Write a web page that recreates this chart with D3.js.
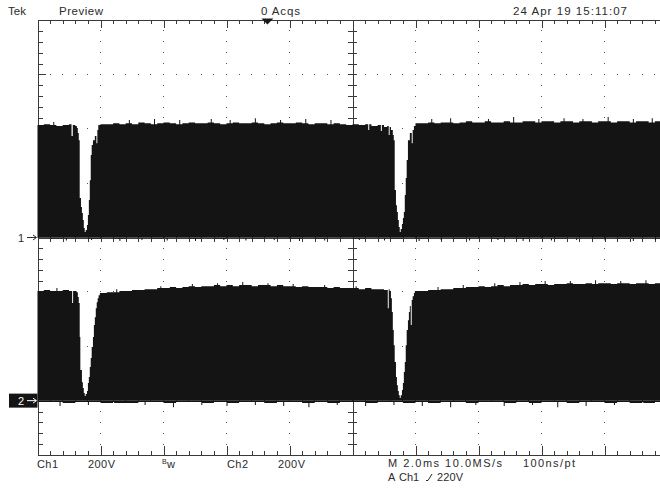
<!DOCTYPE html>
<html><head><meta charset="utf-8">
<script src="https://cdn.jsdelivr.net/npm/d3@7"></script>
<style>
html,body{margin:0;padding:0;background:#fff;}
svg{display:block;}
text{font-family:"Liberation Sans",Arial,Helvetica,sans-serif;fill:#2b2b2b;}
</style></head><body>
<svg id="scope" width="660" height="488"></svg>
<script>
// Acquisition settings: 2.0 ms/div over 10 divisions, 200 V/div over 8 divisions
const timeDomain = [0, 20];
const voltsPerDiv = 200;
const ch1Offset = 0;      // ground marker, divisions above centre
const ch2Offset = -3;

// Channel 1 upper envelope [ms, V]
const ch1Top = [
  [0.0,414],[0.2,417],[0.4,414],[0.6,410],[0.8,414],[1.0,417],[1.08,373],[1.12,414],[1.2,410],
  [1.25,403],[1.28,384],[1.31,358],[1.34,145],[1.38,112],[1.41,90],[1.44,64],[1.47,35],[1.50,20],
  [1.53,28],[1.57,46],[1.60,83],[1.63,138],[1.66,211],[1.69,303],[1.72,340],[1.76,358],[1.82,373],
  [1.87,347],[1.90,395],[1.93,414],
  [2.0,417],[2.2,417],[2.4,420],[2.6,417],[2.8,420],[3.0,417],[3.2,423],[3.4,420],[3.6,417],[3.8,420],
  [4.0,423],[4.2,420],[4.4,417],[4.6,420],[4.8,423],[5.0,420],[5.2,420],[5.4,423],[5.6,420],[5.8,417],
  [6.0,420],[6.2,423],[6.4,420],[6.6,420],[6.8,423],[7.0,420],[7.2,417],[7.4,420],[7.6,423],[7.8,420],
  [8.0,420],[8.2,423],[8.4,420],[8.6,417],[8.8,420],[9.0,420],[9.2,417],[9.4,420],[9.6,417],[9.8,414],
  [10.0,417],[10.2,414],[10.4,417],[10.6,410],[10.8,414],[11.0,406],[11.1,410],
  [11.15,377],[11.18,406],[11.22,395],[11.28,377],[11.31,358],[11.34,175],[11.38,119],[11.41,94],
  [11.44,64],[11.47,39],[11.50,20],[11.53,31],[11.57,50],[11.60,72],[11.63,94],[11.66,156],[11.69,219],
  [11.72,285],[11.76,358],[11.82,384],[11.88,347],[11.91,395],[11.95,410],
  [12.0,420],[12.2,420],[12.4,423],[12.6,420],[12.8,423],[13.0,423],[13.2,420],[13.4,423],[13.6,428],
  [13.8,423],[14.0,423],[14.2,428],[14.4,423],[14.6,423],[14.8,428],[15.0,423],[15.2,423],[15.4,428],
  [15.6,428],[15.8,423],[16.0,428],[16.2,428],[16.4,423],[16.6,428],[16.8,428],[17.0,423],[17.2,428],
  [17.4,428],[17.6,423],[17.8,428],[18.0,428],[18.2,423],[18.4,428],[18.6,428],[18.8,423],[19.0,428],
  [19.2,428],[19.4,423],[19.6,428],[19.8,428],[20.0,428]
];
// Single-sample peaks on the channel 1 upper envelope [ms, V]
const ch1TopSpikes = [
  [0.5,425],[2.9,432],[3.7,436],[4.5,432],[5.5,436],[6.1,432],[6.9,439],[7.7,432],[8.5,436],[9.3,432],
  [10.5,395],[10.9,392],[12.5,436],[13.1,439],[14.3,436],[15.1,443],[15.9,436],[16.7,439],[17.3,436],
  [18.1,443],[18.9,436],[19.5,439]
];
// Channel 1 lower envelope, one value every 0.4 ms
const ch1Low = [-2,-4,-2,-2,-4,-2,-4,-2,-2,-4,-2,-2,-4,-2,-4,-2,-2,-4,-2,-2,-4,-2,-4,-2,-2,-4,
  -2,-2,-4,-2,-4,-2,-2,-4,-2,-2,-4,-2,-4,-2,-2,-4,-2,-2,-4,-2,-4,-2,-2,-4,-2];
const ch1LowSpikes = [
  [0.9,-11],[1.7,-9],[2.6,-13],[3.3,-9],[4.1,-11],[5.0,-13],[5.9,-9],[6.6,-11],[7.5,-9],[8.3,-13],
  [9.1,-11],[10.2,-9],[11.0,-11],[12.1,-13],[12.8,-9],[13.7,-11],[14.6,-9],[15.4,-13],[16.3,-11],
  [17.1,-9],[18.0,-11],[18.9,-13],[19.6,-9]
];

// Channel 2 upper envelope [ms, V]
const ch2Top = [
  [0.0,403],[0.2,407],[0.4,403],[0.6,403],[0.8,407],[1.0,403],[1.10,359],[1.13,403],[1.2,403],
  [1.24,399],[1.28,381],[1.31,359],[1.34,234],[1.36,113],[1.41,68],[1.44,46],[1.47,28],[1.50,17],
  [1.53,24],[1.57,35],[1.60,65],[1.63,87],[1.66,124],[1.69,157],[1.72,197],[1.76,234],[1.79,278],
  [1.82,307],[1.85,340],[1.88,362],[1.91,377],[1.94,388],[1.98,396],
  [2.2,399],[2.4,399],[2.6,403],[2.8,403],[3.0,407],[3.2,407],[3.4,410],[3.6,410],[3.8,414],
  [4.0,414],[4.2,418],[4.4,414],[4.6,418],[4.8,421],[5.0,418],[5.2,421],[5.4,421],[5.6,425],[5.8,421],
  [6.0,425],[6.2,421],[6.4,425],[6.6,425],[6.8,421],[7.0,425],[7.2,425],[7.4,421],[7.6,425],[7.8,421],
  [8.0,421],[8.2,418],[8.4,421],[8.6,418],[8.8,418],[9.0,418],[9.2,414],[9.4,418],[9.6,414],[9.8,414],
  [10.0,414],[10.2,410],[10.4,414],[10.6,410],[10.8,410],[11.0,407],
  [11.12,340],[11.15,410],[11.18,403],[11.22,377],[11.25,326],[11.28,260],[11.31,204],[11.34,142],
  [11.38,87],[11.41,57],[11.44,35],[11.47,20],[11.50,10],[11.53,20],[11.57,39],[11.60,65],[11.63,105],
  [11.66,142],[11.69,204],[11.72,260],[11.76,296],[11.79,326],[11.82,348],[11.85,278],[11.88,370],
  [11.91,384],[11.95,396],[11.98,403],
  [12.2,403],[12.4,407],[12.6,407],[12.8,410],[13.0,410],[13.2,414],[13.4,414],[13.6,418],[13.8,418],
  [14.0,421],[14.2,418],[14.4,421],[14.6,425],[14.8,421],[15.0,425],[15.2,425],[15.4,429],[15.6,425],
  [15.8,429],[16.0,429],[16.2,425],[16.4,429],[16.6,429],[16.8,432],[17.0,429],[17.2,429],[17.4,432],
  [17.6,429],[17.8,432],[18.0,432],[18.2,429],[18.4,432],[18.6,432],[18.8,429],[19.0,432],[19.2,432],
  [19.4,429],[19.6,432],[19.8,432],[20.0,432]
];
const ch2TopSpikes = [
  [0.6,414],[2.5,410],[3.9,421],[4.9,429],[5.7,432],[6.5,436],[7.3,432],[8.1,429],[9.1,425],
  [10.1,421],[12.7,418],[13.5,425],[14.5,432],[15.3,436],[16.1,440],[16.9,440],[17.7,443],
  [18.5,440],[19.3,443]
];
const ch2Low = [-5,-5,-9,-5,-5,-9,-5,-9,-5,-5,-9,-5,-5,-9,-5,-9,-5,-5,-9,-5,-5,-9,-5,-9,-5,-5,
  -9,-5,-5,-9,-5,-9,-5,-5,-9,-5,-5,-9,-5,-9,-5,-5,-9,-5,-5,-9,-5,-9,-5,-5,-9];
const ch2LowSpikes = [
  [0.7,-20],[1.6,-16],[2.4,-20],[3.4,-16],[4.3,-24],[5.2,-16],[6.0,-20],[6.9,-16],[7.8,-20],
  [8.6,-24],[9.5,-16],[10.4,-20],[11.3,-16],[12.2,-20],[13.1,-24],[13.9,-16],[14.8,-20],
  [15.7,-16],[16.5,-24],[17.4,-20],[18.3,-16],[19.2,-20]
];

// Readout text
const headerLabels = [
  {text:"Tek", x:8, len:0},
  {text:"Preview", x:59, len:44},
  {text:"0 Acqs", x:261, len:39},
  {text:"24 Apr 19 15:11:07", x:513, len:114}
];
const footerLabels = [
  {text:"Ch1", x:37, y:468, len:21},
  {text:"200V", x:88, y:468, len:27},
  {text:"Ch2", x:227, y:468, len:21},
  {text:"200V", x:278, y:468, len:27},
  {text:"M 2.0ms 10.0MS/s", x:388, y:467, len:114},
  {text:"100ns/pt", x:523, y:467, len:52},
  {text:"A", x:388, y:481, len:0},
  {text:"Ch1", x:399, y:481, len:0},
  {text:"220V", x:437, y:481, len:26}
];
const triggerTime = 7.3;

// ---- screen geometry ----
const svg = d3.select("#scope");
const gLeft = 37.5, gTop = 20, divW = 63, divH = 54.375;
const nx = 10, ny = 8;
const gRight = gLeft + nx * divW, gBottom = gTop + ny * divH;
const cx = gLeft + 5 * divW, cy = gTop + 4 * divH;

const x = d3.scaleLinear().domain(timeDomain).range([gLeft, gRight]);
const yFor = off => d3.scaleLinear()
  .domain([(-4 - off) * voltsPerDiv, (4 - off) * voltsPerDiv]).range([gBottom, gTop]);
const y1 = yFor(ch1Offset), y2 = yFor(ch2Offset);

// ---- graticule ----
const grid = svg.append("g");
const dots = [];
for (let k = 1; k < nx; k++) if (k !== 5)
  for (let j = 1; j < ny * 5; j++) dots.push([gLeft + k * divW, gTop + j * divH / 5]);
for (let k = 1; k < ny; k++) if (k !== 4)
  for (let j = 1; j < nx * 5; j++) dots.push([gLeft + j * divW / 5, gTop + k * divH]);
grid.selectAll("rect.dot").data(dots).join("rect").attr("class", "dot")
  .attr("x", d => Math.round(d[0] - 0.5)).attr("y", d => Math.round(d[1] - 0.5))
  .attr("width", 1).attr("height", 1).attr("fill", "#555");

const lines = [];
// frame
lines.push([gLeft, gTop, gRight, gTop], [gLeft, gBottom, gRight, gBottom],
  [gLeft, gTop, gLeft, gBottom], [gRight, gTop, gRight, gBottom]);
// centre axes
lines.push([cx, gTop, cx, gBottom], [gLeft, cy, gRight, cy]);
for (let j = 1; j < nx * 5; j++) {
  const xx = gLeft + j * divW / 5, major = j % 5 === 0;
  lines.push([xx, gTop, xx, gTop + (major ? 8 : 4)]);
  lines.push([xx, gBottom, xx, gBottom - (major ? 9 : 4)]);
  lines.push([xx, cy - 4, xx, cy + 4]);
}
for (let j = 1; j < ny * 5; j++) {
  const yy = gTop + j * divH / 5, major = j % 5 === 0;
  lines.push([gLeft, yy, gLeft + (major ? 8 : 5), yy]);
  lines.push([gRight, yy, gRight - (major ? 8 : 5), yy]);
  lines.push([cx - 4.5, yy, cx + 4.5, yy]);
}
const px = v => Math.round(v) + 0.5;
grid.selectAll("line").data(lines).join("line")
  .attr("x1", d => d[0] === d[2] ? px(d[0]) : d[0]).attr("x2", d => d[0] === d[2] ? px(d[2]) : d[2])
  .attr("y1", d => d[1] === d[3] ? px(d[1]) : d[1]).attr("y2", d => d[1] === d[3] ? px(d[3]) : d[3])
  .attr("stroke", "#3a3a3a").attr("stroke-width", 1).attr("shape-rendering", "crispEdges");

// ---- waveforms ----
function addSpikes(base, spikes, w) {
  const out = base.slice();
  spikes.forEach(([t, v]) => {
    let level = base[0][1];
    for (const p of base) { if (p[0] <= t) level = p[1]; else break; }
    out.push([t, v], [t + w, level]);
  });
  return out.sort((a, b) => a[0] - b[0]);
}
const lowSeries = arr => arr.map((v, i) => [i * 0.4, v]);

function drawChannel(topData, topSpikes, lowData, lowSpikes, y) {
  const g = svg.append("g");
  const upper = addSpikes(topData, topSpikes, 0.032);
  const lower = addSpikes(lowSeries(lowData), lowSpikes, 0.032);
  const area = d3.area().x(d => x(d[0])).y0(y(0)).y1(d => y(d[1])).curve(d3.curveStepAfter);
  g.append("path").attr("d", area(upper)).attr("fill", "#141414");
  g.append("path").attr("d", area(lower)).attr("fill", "#141414");
}
drawChannel(ch1Top, ch1TopSpikes, ch1Low, ch1LowSpikes, y1);
drawChannel(ch2Top, ch2TopSpikes, ch2Low, ch2LowSpikes, y2);

// ---- trigger position marker ----
const tx = x(triggerTime);
svg.append("path").attr("d", `M${tx - 6},${gTop - 1.5}L${tx + 6},${gTop - 1.5}L${tx},${gTop + 4.5}Z`)
  .attr("fill", "#1a1a1a");

// ---- channel ground markers ----
const g1 = y1(0), g2 = y2(0);
svg.append("text").attr("x", 18).attr("y", g1 + 4).attr("font-size", 11).text("1");
svg.append("path").attr("d", `M27,${g1}H36M33,${g1 - 2.5}L36.5,${g1}L33,${g1 + 2.5}`)
  .attr("stroke", "#2b2b2b").attr("fill", "none").attr("stroke-width", 1);
svg.append("rect").attr("x", 9).attr("y", g2 - 7).attr("width", gLeft - 9).attr("height", 14).attr("fill", "#141414");
svg.append("text").attr("x", 18).attr("y", g2 + 4).attr("font-size", 11).style("fill", "#fff").text("2");
svg.append("path").attr("d", `M27,${g2}H36M33,${g2 - 2.5}L36.5,${g2}L33,${g2 + 2.5}`)
  .attr("stroke", "#fff").attr("fill", "none").attr("stroke-width", 1);

// ---- readouts ----
svg.selectAll("text.hdr").data(headerLabels).join("text").attr("class", "hdr")
  .attr("x", d => d.x).attr("y", 15).attr("font-size", 11.5)
  .each(function(d) { if (d.len) d3.select(this).attr("textLength", d.len).attr("lengthAdjust", "spacing"); })
  .text(d => d.text);
svg.selectAll("text.ftr").data(footerLabels).join("text").attr("class", "ftr")
  .attr("x", d => d.x).attr("y", d => d.y).attr("font-size", 11)
  .each(function(d) { if (d.len) d3.select(this).attr("textLength", d.len).attr("lengthAdjust", "spacing"); })
  .text(d => d.text);
// bandwidth-limit indicator
svg.append("text").attr("x", 162).attr("y", 464).attr("font-size", 7).text("B");
svg.append("text").attr("x", 167).attr("y", 468).attr("font-size", 11).text("w");
// trigger slope icon (rising edge)
svg.append("path").attr("d", "M426,480.5H428L432,474").attr("stroke", "#2b2b2b").attr("fill", "none");
</script>
</body></html>
